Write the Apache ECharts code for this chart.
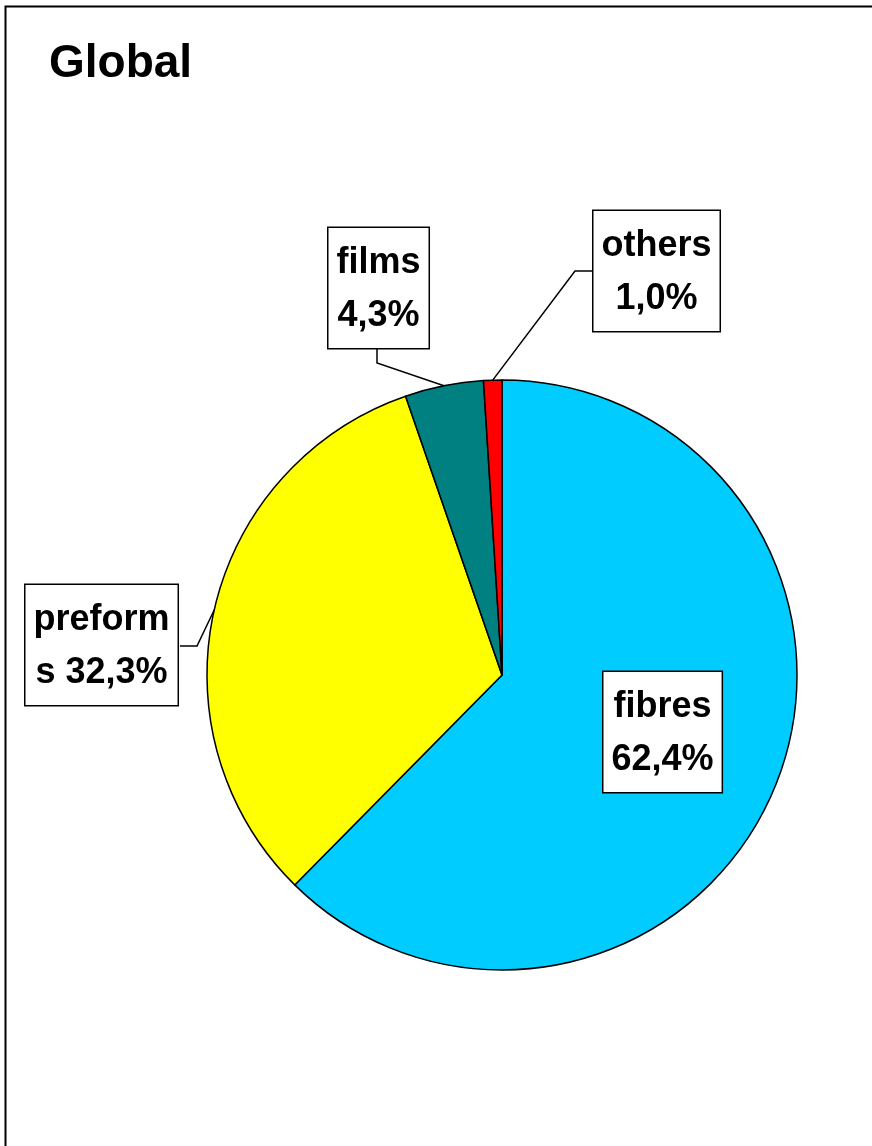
<!DOCTYPE html>
<html>
<head>
<meta charset="utf-8">
<script src="https://cdn.jsdelivr.net/npm/echarts@6/dist/echarts.min.js"></script>
<style>
html,body{margin:0;padding:0;background:#fff;}
#chart{width:872px;height:1146px;}
</style>
</head>
<body>
<div id="chart"></div>
<script>
const categories = ['fibres', 'preforms', 'films', 'others'];
const values = [62.4, 32.3, 4.3, 1.0];
const labelNames = ['fibres', 'preform\ns', 'films', 'others'];
const colors = ['#00CCFF', '#FFFF00', '#008080', '#FF0000'];
const titleText = 'Global';

// label box top-left positions (layout only)
const labelBoxes = [[602, 672], [24, 585], [327, 228], [592, 211]];
const labelLineBends = [null, [[197, 646], [180, 646]], [[377, 363], [377, 349]], [[575, 271], [592, 271]]];

function fmtPct(v) { return v.toFixed(1).replace('.', ',') + '%'; }

const chart = echarts.init(document.getElementById('chart'), null, {renderer: 'canvas'});
const font = {fontFamily: 'Liberation Sans, Arial, sans-serif', fontWeight: 'bold'};

chart.setOption({
  animation: false,
  backgroundColor: '#fff',
  title: {
    text: titleText, left: 44, top: 36,
    textStyle: Object.assign({fontSize: 46, color: '#000'}, font)
  },
  graphic: [{
    type: 'rect', shape: {x: 5.5, y: 6.5, width: 900, height: 1200},
    style: {fill: null, stroke: '#000', lineWidth: 2}, silent: true
  }],
  series: [{
    type: 'pie',
    center: [502, 675],
    radius: 295,
    startAngle: 90,
    clockwise: true,
    avoidLabelOverlap: false,
    itemStyle: {borderColor: '#000', borderWidth: 1.5},
    label: Object.assign({
      show: true,
      fontSize: 36, lineHeight: 53, color: '#000',
      backgroundColor: '#fff', borderColor: '#000', borderWidth: 1.5,
      padding: [9, 8, 5, 8],
      align: 'center',
      formatter: function (p) {
        const n = labelNames[p.dataIndex];
        return n + (n.indexOf('\n') >= 0 ? ' ' : '\n') + fmtPct(values[p.dataIndex]);
      }
    }, font),
    labelLine: {show: true, lineStyle: {color: '#000', width: 1.5}, length: 20, length2: 20},
    labelLayout: function (params) {
      const i = params.dataIndex;
      const b = labelBoxes[i];
      const r = {x: b[0] + params.labelRect.width / 2, y: b[1], align: 'center', verticalAlign: 'top'};
      if (labelLineBends[i] && params.labelLinePoints) {
        r.labelLinePoints = [params.labelLinePoints[0], labelLineBends[i][0], labelLineBends[i][1]];
      }
      return r;
    },
    data: categories.map((c, i) => ({
      name: c, value: values[i],
      itemStyle: {color: colors[i]},
      label: i === 0 ? {position: 'inside'} : {position: 'outside'},
      labelLine: {show: i !== 0}
    }))
  }]
});
</script>
</body>
</html>
